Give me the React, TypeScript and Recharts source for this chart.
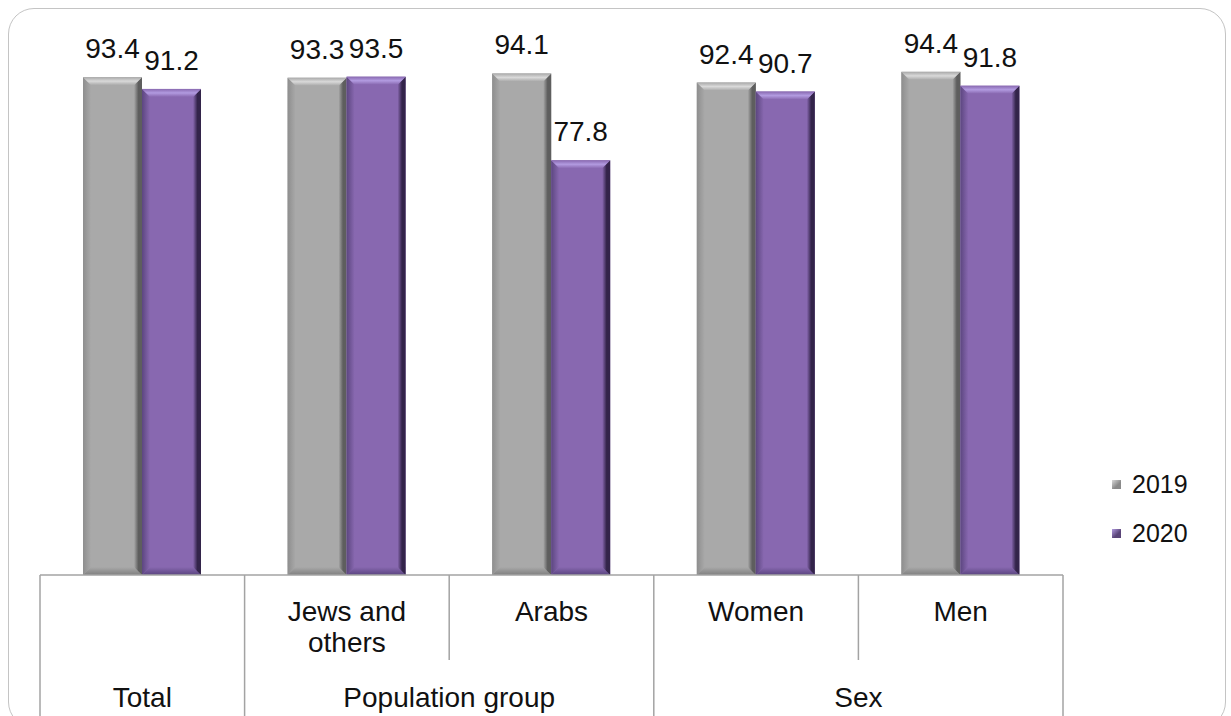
import React from 'react'
import { BarChart, Bar, XAxis, YAxis, LabelList, Legend } from 'recharts'

// per-category values
const CATEGORY_KEYS = ['total', 'jews', 'arabs', 'women', 'men']
const CATEGORY_LABELS: string[][] = [[], ['Jews and', 'others'], ['Arabs'], ['Women'], ['Men']]
const VALUES_2019 = [93.4, 93.3, 94.1, 92.4, 94.4]
const VALUES_2020 = [91.2, 93.5, 77.8, 90.7, 91.8]

// second row of the axis table: which categories each group spans
const GROUP_LABELS = ['Total', 'Population group', 'Sex']
const GROUP_START = [0, 1, 3]
const GROUP_END = [0, 2, 4]

const SERIES_NAMES = ['2019', '2020']

const data = CATEGORY_KEYS.map((key, i) => ({
  key,
  v2019: VALUES_2019[i],
  v2020: VALUES_2020[i],
}))

const FONT = '"Liberation Sans", Arial, sans-serif'
const LINE_COLOR = '#a3a3a3'
const TABLE_HEIGHT = 141
const INNER_ROW = 85

type Tone = {
  id: string; body: string; light: string; left: string; dark: string; bottom: string; marker: string
}

const GRAY: Tone = {
  id: 'bev-gray', body: '#a9a9a9', light: '#d9d9d9', left: '#8e8e8e', dark: '#5e5e5e', bottom: '#808080', marker: '#8a8a8a',
}
const PURPLE: Tone = {
  id: 'bev-purple', body: '#8868b0', light: '#b29be0', left: '#5c4680', dark: '#33244a', bottom: '#5a4580', marker: '#5a4578',
}

// bar with bevelled edges: light top, shaded sides and bottom
function bevelBar(tone: Tone) {
  return (props: any) => {
    const { x, y, width, height } = props
    if (!height || height <= 0) return <g />
    const b = Math.min(8, width / 6)
    const r = x + width
    const bottom = y + height
    return (
      <g>
        <defs>
          <linearGradient id={`${tone.id}-right`} x1="0" y1="0" x2="1" y2="0">
            <stop offset="0" stopColor={tone.body} />
            <stop offset="0.55" stopColor={tone.dark} />
            <stop offset="1" stopColor={tone.dark} />
          </linearGradient>
          <linearGradient id={`${tone.id}-left`} x1="0" y1="0" x2="1" y2="0">
            <stop offset="0" stopColor={tone.left} />
            <stop offset="1" stopColor={tone.body} />
          </linearGradient>
          <linearGradient id={`${tone.id}-top`} x1="0" y1="0" x2="0" y2="1">
            <stop offset="0" stopColor={tone.body} />
            <stop offset="0.5" stopColor={tone.light} />
            <stop offset="1" stopColor={tone.body} />
          </linearGradient>
          <linearGradient id={`${tone.id}-bottom`} x1="0" y1="0" x2="0" y2="1">
            <stop offset="0" stopColor={tone.body} />
            <stop offset="1" stopColor={tone.bottom} />
          </linearGradient>
        </defs>
        <rect x={x} y={y} width={width} height={height} fill={tone.body} />
        <polygon
          points={`${x},${y} ${x + b},${y + b} ${x + b},${bottom - b} ${x},${bottom}`}
          fill={`url(#${tone.id}-left)`}
        />
        <polygon
          points={`${x},${bottom} ${x + b},${bottom - b} ${r - b},${bottom - b} ${r},${bottom}`}
          fill={`url(#${tone.id}-bottom)`}
        />
        <polygon
          points={`${r},${y} ${r},${bottom} ${r - b},${bottom - b} ${r - b},${y + b}`}
          fill={`url(#${tone.id}-right)`}
        />
        <polygon
          points={`${x},${y} ${r},${y} ${r - b},${y + b} ${x + b},${y + b}`}
          fill={`url(#${tone.id}-top)`}
        />
      </g>
    )
  }
}

// draws the cell borders and the two rows of labels under the bars
function TableTick(props: any) {
  const { x, y, payload } = props
  const i: number = payload.index
  const half: number = payload.offset || 102.3
  const left = x - half
  const right = x + half
  const g = GROUP_START.findIndex((s, k) => i >= s && i <= GROUP_END[k])
  const opensGroup = GROUP_START[g] === i
  const closesGroup = GROUP_END[g] === i
  const isLast = i === CATEGORY_KEYS.length - 1
  const lines = CATEGORY_LABELS[i]
  const groupCenter = x - (GROUP_END[g] - GROUP_START[g]) * half
  const textStyle = { fontSize: 28, fill: '#111', fontFamily: FONT }
  return (
    <g>
      <line x1={left} x2={left} y1={y} y2={y + (opensGroup ? TABLE_HEIGHT : INNER_ROW)} stroke={LINE_COLOR} strokeWidth={1.5} />
      {isLast && <line x1={right} x2={right} y1={y} y2={y + TABLE_HEIGHT} stroke={LINE_COLOR} strokeWidth={1.5} />}
      {lines.map((t, k) => (
        <text key={k} x={x} y={y + 46 + k * 31} textAnchor="middle" {...textStyle}>{t}</text>
      ))}
      {closesGroup && (
        <text x={groupCenter} y={y + 132} textAnchor="middle" {...textStyle}>{GROUP_LABELS[g]}</text>
      )}
    </g>
  )
}

const TONES = [GRAY, PURPLE]

function YearLegend({ payload }: any) {
  return (
    <div style={{ fontFamily: FONT }}>
      {(payload || []).map((p: any, i: number) => (
        <div key={p.value} style={{ display: 'flex', alignItems: 'center', height: 49, fontSize: 25, color: '#111' }}>
          <span
            style={{
              display: 'inline-block', width: 9, height: 9, marginRight: 11,
              background: `linear-gradient(135deg, ${TONES[i].light}, ${TONES[i].marker} 60%)`,
            }}
          />
          {p.value}
        </div>
      ))}
    </div>
  )
}

export default function App() {
  return (
    <div style={{ position: 'absolute', left: 0, top: 0, width: 1231, height: 716, background: '#fff', overflow: 'hidden' }}>
      <div
        style={{
          position: 'absolute', left: 8, top: 8, width: 1218, height: 720,
          border: '1.5px solid #c4c4c4', borderRadius: 26, boxSizing: 'border-box',
        }}
      />
      <BarChart
        width={1231}
        height={716}
        data={data}
        margin={{ top: 42, right: 168, bottom: 0, left: 40 }}
        barGap={0}
        barSize={59}
        style={{ position: 'absolute', left: 0, top: 0, fontFamily: FONT }}
      >
        <XAxis
          dataKey="key"
          height={TABLE_HEIGHT}
          interval={0}
          tickLine={false}
          tickSize={0}
          tickMargin={0}
          axisLine={{ stroke: LINE_COLOR, strokeWidth: 1.5 }}
          tick={<TableTick />}
        />
        <YAxis hide domain={[0, 100]} />
        <Legend
          layout="vertical"
          align="center"
          verticalAlign="middle"
          content={<YearLegend />}
          wrapperStyle={{ left: 1112, top: 460, width: 110 }}
        />
        <Bar dataKey="v2019" name={SERIES_NAMES[0]} fill={GRAY.marker} shape={bevelBar(GRAY)} isAnimationActive={false}>
          <LabelList dataKey="v2019" position="top" offset={19} fontSize={28} fill="#111" fontFamily={FONT} />
        </Bar>
        <Bar dataKey="v2020" name={SERIES_NAMES[1]} fill={PURPLE.marker} shape={bevelBar(PURPLE)} isAnimationActive={false}>
          <LabelList dataKey="v2020" position="top" offset={19} fontSize={28} fill="#111" fontFamily={FONT} />
        </Bar>
      </BarChart>
    </div>
  )
}
